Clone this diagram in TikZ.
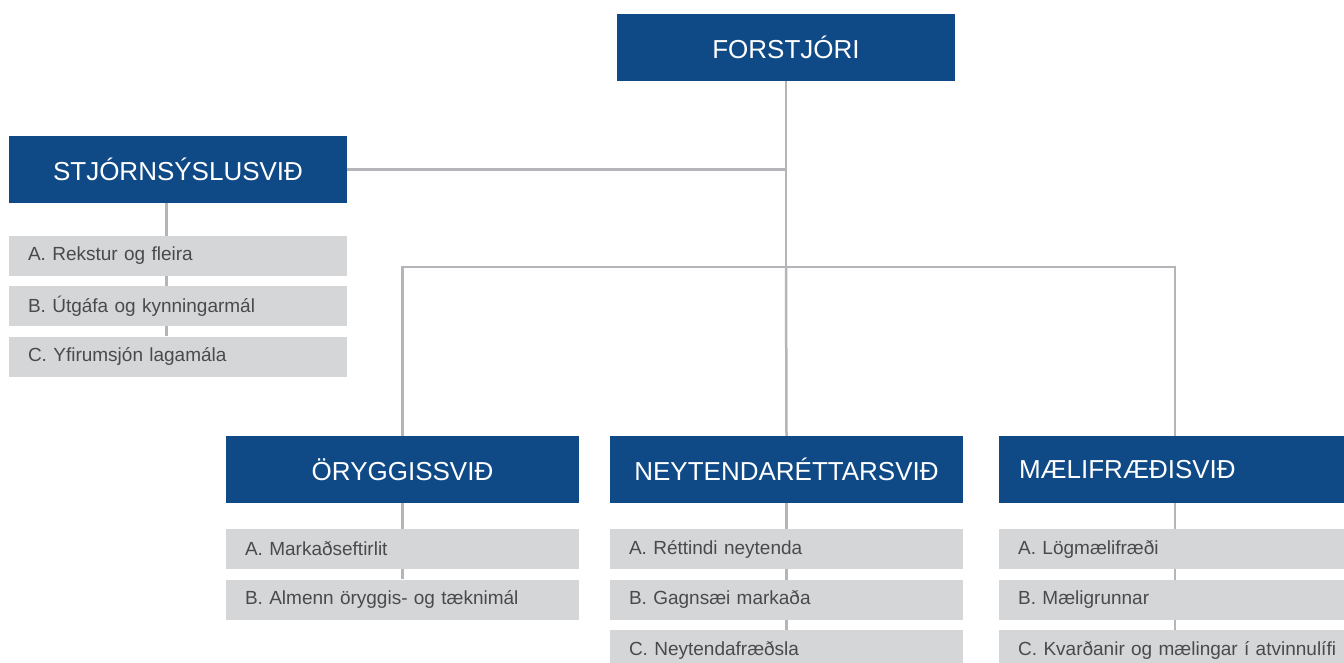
\documentclass[tikz,border=0pt]{standalone}
\usepackage{fontspec}
\setmainfont{Liberation Sans}
\usepackage{tikz}
\usetikzlibrary{positioning, backgrounds, calc}
\definecolor{OrgBlue}{HTML}{0F4A87}
\definecolor{UnitGray}{HTML}{D5D6D8}
\definecolor{LineGray}{HTML}{B4B4B9}
\definecolor{TextGray}{HTML}{4A4A4A}
\tikzset{
  divbox/.style={rectangle, fill=OrgBlue, text=white, minimum width=338pt, minimum height=67pt, inner sep=0pt, font=\fontsize{26}{30}\selectfont},
  unitbox/.style={rectangle, fill=UnitGray, text=TextGray, minimum height=40pt, inner xsep=19pt, inner ysep=0pt, text width=315pt, align=left, font=\fontsize{19}{22}\selectfont},
  orgline/.style={draw=LineGray, line width=2.5pt}
}

\begin{document}
\begin{tikzpicture}[x=1pt, y=-1pt]
  \useasboundingbox (0,0) rectangle (1344,662);
  \clip (0,0) rectangle (1344,662);

  % Top
  \node[divbox] (boss) at (786,47.5) {FORSTJÓRI};
  \node[divbox] (stj) at (178,169.5) {STJÓRNSÝSLUSVIÐ};

  \foreach \i/\label in {1/A. Rekstur og fleira, 2/B. Útgáfa og kynningarmál, 3/C. Yfirumsjón lagamála} {
    \node[unitbox, text width=300pt] (stj\i) at (178,205+\i*50.5) {\label};
  }

  % Divisions
  \node[divbox, minimum width=353pt] (ory) at (402.5,469.5) {ÖRYGGISSVIÐ};
  \node[divbox, minimum width=353pt] (ney) at (786.5,469.5) {NEYTENDARÉTTARSVIÐ};
  \node[divbox, minimum width=352pt, text width=312pt, inner xsep=20pt, align=left] (mae) at (1175,469.5) {MÆLIFRÆÐISVIÐ};

  \foreach \i/\label in {1/A. Markaðseftirlit, 2/B. Almenn öryggis- og tæknimál} {
    \node[unitbox] (ory\i) at (402.5,498.5+\i*50.5) {\label};
  }
  \foreach \i/\label in {1/A. Réttindi neytenda, 2/B. Gagnsæi markaða, 3/C. Neytendafræðsla} {
    \node[unitbox] (ney\i) at (786.5,498.5+\i*50.5) {\label};
  }
  \foreach \i/\label in {1/A. Lögmælifræði, 2/B. Mæligrunnar, 3/C. Kvarðanir og mælingar í atvinnulífi} {
    \node[unitbox, text width=340pt, anchor=west] (mae\i) at (999,498.5+\i*50.5) {\label};
  }

  % Connectors
  \coordinate (hub) at (786,267);
  \coordinate (stjx) at (166.5,0);
  \begin{scope}[on background layer]
    \draw[orgline] (boss.south) -- (hub);
    \draw[orgline] (stj.east) -- (stj.east -| hub);
    \draw[orgline] (ory.north) -- (ory.north |- hub) -- (mae.north |- hub) -- (mae.north);
    \draw[orgline] (hub) -- (ney.north);
    \draw[orgline] (stj.south -| stjx) -- (stj3.north -| stjx);
    \draw[orgline] (ory.south) -- (ory2.north);
    \draw[orgline] (ney.south) -- (ney3.north);
    \draw[orgline] (mae.south) -- (mae.south |- mae3.north);
  \end{scope}
\end{tikzpicture}
\end{document}
